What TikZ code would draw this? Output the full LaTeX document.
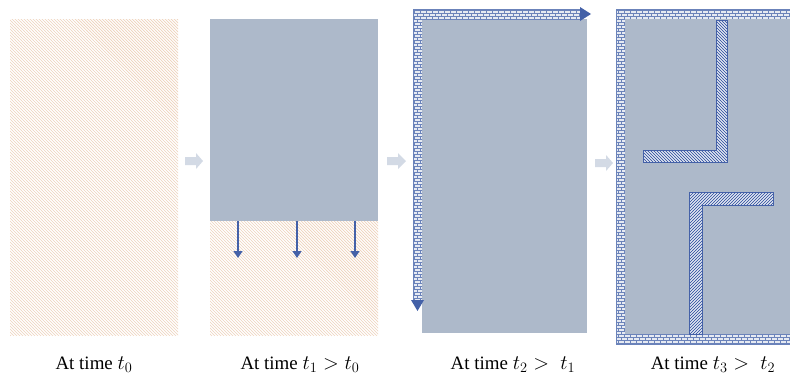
\documentclass[tikz,border=0pt]{standalone}
\usepackage{fontspec}
\setmainfont{Liberation Serif}
\usetikzlibrary{arrows.meta,patterns}
\definecolor{peach}{HTML}{EFD3BC}
\definecolor{slate}{HTML}{ADB9CA}
\definecolor{dblue}{HTML}{4461A8}
\definecolor{brickbg}{HTML}{E6EAF2}
\definecolor{brickln}{HTML}{6B83BA}
\definecolor{garrow}{HTML}{D3DAE5}
\pgfdeclarepatternformonly{hatchNW}{\pgfpoint{-1bp}{-1bp}}{\pgfpoint{4bp}{4bp}}{\pgfpoint{3bp}{3bp}}{%
  \pgfsetlinewidth{0.9bp}%
  \pgfpathmoveto{\pgfpoint{0bp}{3bp}}\pgfpathlineto{\pgfpoint{3.1bp}{-0.1bp}}%
  \pgfusepath{stroke}}
\pgfdeclarepatternformonly{hatchNE}{\pgfpoint{-1bp}{-1bp}}{\pgfpoint{4bp}{4bp}}{\pgfpoint{3bp}{3bp}}{%
  \pgfsetlinewidth{0.9bp}%
  \pgfpathmoveto{\pgfpoint{0bp}{0bp}}\pgfpathlineto{\pgfpoint{3.1bp}{3.1bp}}%
  \pgfusepath{stroke}}
\pgfdeclarepatternformonly{peachlines}{\pgfpoint{-1bp}{-1bp}}{\pgfpoint{4bp}{4bp}}{\pgfpoint{3bp}{3bp}}{%
  \pgfsetlinewidth{0.7bp}%
  \pgfpathmoveto{\pgfpoint{0bp}{3bp}}\pgfpathlineto{\pgfpoint{3.1bp}{-0.1bp}}%
  \pgfusepath{stroke}}
\pgfdeclarepatternformonly{minibricks}{\pgfpoint{-0.5bp}{-0.5bp}}{\pgfpoint{6.5bp}{6.5bp}}{\pgfpoint{6bp}{6bp}}{%
  \pgfsetlinewidth{0.6bp}%
  \pgfpathmoveto{\pgfpoint{0bp}{0bp}}\pgfpathlineto{\pgfpoint{6bp}{0bp}}%
  \pgfpathmoveto{\pgfpoint{0bp}{3bp}}\pgfpathlineto{\pgfpoint{6bp}{3bp}}%
  \pgfpathmoveto{\pgfpoint{0bp}{0bp}}\pgfpathlineto{\pgfpoint{0bp}{3bp}}%
  \pgfpathmoveto{\pgfpoint{3bp}{3bp}}\pgfpathlineto{\pgfpoint{3bp}{6bp}}%
  \pgfusepath{stroke}}
\newcommand\mth[1]{{\fontsize{22.5}{23}\selectfont$#1$}}
\tikzset{
  soil/.style={fill=white,postaction={pattern=peachlines,pattern color=peach}},
  slab/.style={fill=slate},
  brick/.style={fill=brickbg,postaction={pattern=minibricks,pattern color=brickln}},
  hatchA/.style={fill=white,draw=dblue,line width=0.5bp,postaction={pattern=hatchNW,pattern color=dblue}},
  hatchB/.style={fill=white,draw=dblue,line width=0.5bp,postaction={pattern=hatchNE,pattern color=dblue}},
  flow/.style={draw=dblue,line width=1.3bp,-{Triangle[width=9bp,length=7bp]}},
  head/.style={fill=dblue},
  gray arrow/.style={fill=garrow},
  caption/.style={anchor=base,font=\fontsize{19}{22}\selectfont,inner sep=0pt}
}
\begin{document}
\begin{tikzpicture}[x=1bp,y=-1bp]
\useasboundingbox (0,0) rectangle (790,379);
% panel 1
\path[soil] (10,19) rectangle (178,335);
\node[caption] (c0) at (94,369) {At time \mth{t_0}};
% arrow 1
\path[gray arrow] (185,157) -- (196,157) -- (196,153) -- (203,161) -- (196,169) -- (196,165) -- (185,165) -- cycle;
% panel 2
\path[soil] (210,221) rectangle (378,335);
\path[slab] (210,19) rectangle (378,221);
\coordinate (a1s) at (238,221); \coordinate (a1e) at (238,258);
\coordinate (a2s) at (297,221); \coordinate (a2e) at (297,258);
\coordinate (a3s) at (355,221); \coordinate (a3e) at (355,258);
\draw[flow] (a1s) -- (a1e);
\draw[flow] (a2s) -- (a2e);
\draw[flow] (a3s) -- (a3e);
\node[caption] (c1) at (300,369) {At time \mth{t_1 > t_0}};
% arrow 2
\path[gray arrow] (387,157) -- (398,157) -- (398,153) -- (406,161) -- (398,169) -- (398,165) -- (387,165) -- cycle;
% panel 3
\path[slab] (422,19) rectangle (587,333);
\path[brick] (413,9) rectangle (580,19);
\path[brick] (413,19) rectangle (422,300);
\draw[brickln,line width=0.5bp] (580,9) -- (413,9) -- (413,300);
\path[head] (580,7) -- (591,14) -- (580,21) -- cycle;
\path[head] (411,300) -- (424,300) -- (417.5,311) -- cycle;
\node[caption] (c2) at (513,369) {At time \mth{t_2 >\ t_1}};
% arrow 3
\path[gray arrow] (595,159) -- (606,159) -- (606,155) -- (613,163) -- (606,171) -- (606,167) -- (595,167) -- cycle;
% panel 4
\path[brick] (616,9) rectangle (790,344);
\draw[brickln,line width=0.5bp] (790,9) -- (616,9) -- (616,344) -- (790,344);
\path[slab] (625,19) rectangle (790,334);
\path[hatchA] (716,20) -- (727,20) -- (727,162) -- (643,162) -- (643,150) -- (716,150) -- cycle;
\path[hatchB] (689,192) -- (773,192) -- (773,205) -- (702,205) -- (702,334) -- (689,334) -- cycle;
\node[caption] (c3) at (713,369) {At time \mth{t_3 >\ t_2}};
\end{tikzpicture}
\end{document}
